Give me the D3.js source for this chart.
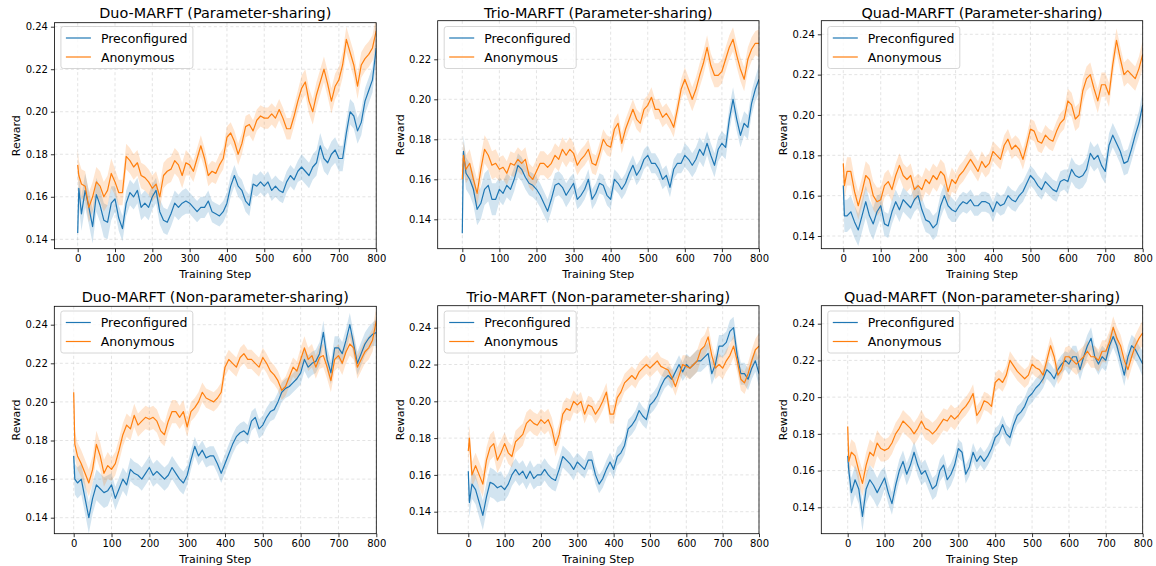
<!DOCTYPE html>
<html><head><meta charset="utf-8">
<script src="https://cdn.jsdelivr.net/npm/d3@7"></script>
<style>body{margin:0;background:#fff}svg{display:block;font-family:"DejaVu Sans",sans-serif}</style>
</head><body><svg id="c" width="1156" height="566"></svg>
<script>
const steps = [0,3,10,20,30,40,50,60,70,80,90,100,110,120,130,140,150,160,170,180,190,200,210,220,230,240,250,260,270,280,290,300,310,320,330,340,350,360,370,380,390,400,410,420,430,440,450,460,470,480,490,500,510,520,530,540,550,560,570,580,590,600,610,620,630,640,650,660,670,680,690,700,710,720,730,740,750,760,770,780,790,800];
const seriesNames = ["Preconfigured","Anonymous"];
const titles = ["Duo-MARFT (Parameter-sharing)","Trio-MARFT (Parameter-sharing)","Quad-MARFT (Parameter-sharing)","Duo-MARFT (Non-parameter-sharing)","Trio-MARFT (Non-parameter-sharing)","Quad-MARFT (Non-parameter-sharing)"];
const xTicks = [0,100,200,300,400,500,600,700,800];
const yTicksA = [0.14,0.16,0.18,0.20,0.22,0.24];
const yTicksB = [0.14,0.16,0.18,0.20,0.22];

const duoPS_pre = [0.143,0.164,0.152,0.163,0.155,0.146,0.161,0.156,0.149,0.148,
0.157,0.159,0.150,0.145,0.157,0.162,0.160,0.163,0.155,0.157,
0.155,0.160,0.163,0.153,0.149,0.148,0.152,0.157,0.155,0.157,
0.158,0.157,0.155,0.153,0.155,0.155,0.158,0.153,0.152,0.151,
0.153,0.157,0.165,0.170,0.165,0.163,0.158,0.156,0.166,0.165,
0.167,0.165,0.167,0.163,0.165,0.163,0.162,0.167,0.170,0.168,
0.172,0.174,0.172,0.170,0.174,0.176,0.184,0.178,0.176,0.180,
0.182,0.178,0.178,0.190,0.200,0.198,0.191,0.195,0.205,0.210,
0.215,0.230];
const duoPS_anon = [0.175,0.170,0.166,0.165,0.155,0.160,0.167,0.165,0.160,0.163,
0.171,0.167,0.162,0.162,0.179,0.177,0.174,0.176,0.170,0.169,
0.167,0.164,0.166,0.160,0.170,0.172,0.173,0.177,0.175,0.170,
0.176,0.175,0.172,0.178,0.184,0.178,0.170,0.172,0.171,0.175,
0.178,0.188,0.190,0.186,0.180,0.185,0.193,0.194,0.191,0.196,
0.198,0.197,0.197,0.199,0.197,0.201,0.197,0.192,0.192,0.198,
0.205,0.211,0.214,0.205,0.200,0.208,0.214,0.220,0.213,0.205,
0.212,0.215,0.222,0.234,0.228,0.222,0.212,0.222,0.225,0.227,
0.230,0.238];
const trioPS_pre = [0.133,0.174,0.163,0.160,0.155,0.145,0.148,0.155,0.157,0.150,
0.150,0.155,0.153,0.157,0.155,0.160,0.167,0.165,0.161,0.158,
0.157,0.155,0.152,0.148,0.144,0.150,0.157,0.158,0.156,0.152,
0.155,0.158,0.150,0.152,0.155,0.160,0.150,0.153,0.158,0.157,
0.152,0.150,0.160,0.158,0.155,0.158,0.163,0.167,0.162,0.165,
0.170,0.172,0.168,0.168,0.165,0.160,0.162,0.156,0.165,0.168,
0.168,0.172,0.170,0.167,0.170,0.175,0.172,0.178,0.172,0.167,
0.175,0.178,0.176,0.190,0.200,0.190,0.182,0.188,0.186,0.198,
0.205,0.210];
const trioPS_anon = [0.160,0.172,0.165,0.168,0.160,0.153,0.165,0.175,0.172,0.167,
0.168,0.165,0.166,0.163,0.168,0.167,0.170,0.168,0.170,0.162,
0.160,0.164,0.168,0.168,0.166,0.168,0.172,0.170,0.175,0.172,
0.175,0.173,0.167,0.170,0.172,0.175,0.168,0.167,0.173,0.180,
0.177,0.176,0.185,0.188,0.178,0.185,0.190,0.195,0.190,0.188,
0.195,0.197,0.201,0.195,0.195,0.191,0.193,0.190,0.186,0.195,
0.205,0.210,0.205,0.200,0.205,0.212,0.218,0.226,0.217,0.212,
0.212,0.214,0.220,0.226,0.230,0.222,0.215,0.210,0.220,0.225,
0.228,0.228];
const quadPS_pre = [0.165,0.150,0.150,0.152,0.147,0.143,0.150,0.157,0.150,0.146,
0.152,0.155,0.146,0.145,0.152,0.157,0.153,0.158,0.156,0.154,
0.158,0.160,0.153,0.148,0.147,0.144,0.146,0.155,0.160,0.155,
0.153,0.152,0.155,0.157,0.156,0.158,0.155,0.155,0.157,0.157,
0.156,0.152,0.157,0.155,0.156,0.160,0.158,0.157,0.160,0.162,
0.166,0.170,0.168,0.165,0.163,0.167,0.165,0.163,0.162,0.167,
0.168,0.167,0.173,0.170,0.169,0.170,0.173,0.181,0.178,0.180,
0.175,0.172,0.185,0.190,0.186,0.182,0.176,0.177,0.183,0.190,
0.196,0.205];
const quadPS_anon = [0.176,0.165,0.172,0.172,0.162,0.155,0.162,0.170,0.168,0.160,
0.157,0.158,0.165,0.167,0.163,0.170,0.175,0.170,0.168,0.170,
0.163,0.165,0.163,0.168,0.166,0.170,0.168,0.172,0.170,0.162,
0.168,0.166,0.170,0.172,0.175,0.178,0.175,0.172,0.177,0.174,
0.176,0.182,0.180,0.178,0.185,0.188,0.183,0.185,0.183,0.178,
0.185,0.193,0.192,0.187,0.186,0.190,0.188,0.187,0.192,0.196,
0.198,0.207,0.205,0.198,0.200,0.212,0.218,0.220,0.213,0.207,
0.215,0.215,0.210,0.225,0.237,0.228,0.220,0.222,0.220,0.218,
0.223,0.230];
const duoNPS_pre = [0.172,0.160,0.158,0.160,0.150,0.140,0.150,0.157,0.155,0.153,
0.154,0.157,0.150,0.155,0.160,0.157,0.165,0.163,0.162,0.160,
0.163,0.166,0.162,0.164,0.162,0.160,0.162,0.166,0.163,0.160,
0.158,0.162,0.170,0.177,0.172,0.175,0.171,0.172,0.172,0.168,
0.163,0.168,0.173,0.178,0.182,0.184,0.185,0.183,0.190,0.192,
0.186,0.188,0.192,0.195,0.196,0.200,0.205,0.207,0.208,0.210,
0.212,0.215,0.222,0.218,0.220,0.221,0.225,0.236,0.222,0.215,
0.228,0.228,0.225,0.232,0.240,0.230,0.220,0.225,0.230,0.233,
0.235,0.236];
const duoNPS_anon = [0.205,0.178,0.172,0.168,0.163,0.158,0.165,0.178,0.172,0.163,
0.167,0.165,0.168,0.175,0.183,0.188,0.186,0.193,0.188,0.190,
0.192,0.191,0.192,0.190,0.185,0.183,0.190,0.195,0.195,0.192,
0.195,0.187,0.195,0.197,0.200,0.205,0.202,0.201,0.200,0.202,
0.205,0.218,0.222,0.220,0.218,0.223,0.225,0.222,0.222,0.220,
0.218,0.223,0.220,0.216,0.214,0.211,0.206,0.208,0.213,0.218,
0.216,0.222,0.228,0.222,0.224,0.218,0.223,0.224,0.218,0.211,
0.222,0.224,0.220,0.226,0.230,0.228,0.218,0.222,0.226,0.228,
0.232,0.242];
const trioNPS_pre = [0.162,0.145,0.155,0.152,0.145,0.138,0.148,0.156,0.155,0.153,
0.154,0.152,0.155,0.160,0.163,0.160,0.162,0.158,0.162,0.158,
0.160,0.160,0.163,0.160,0.158,0.157,0.163,0.170,0.168,0.166,
0.163,0.167,0.165,0.163,0.168,0.168,0.160,0.155,0.158,0.163,
0.167,0.163,0.170,0.172,0.176,0.185,0.187,0.190,0.195,0.192,
0.190,0.198,0.200,0.203,0.208,0.212,0.214,0.212,0.216,0.220,
0.216,0.220,0.218,0.220,0.222,0.222,0.224,0.226,0.215,0.220,
0.230,0.230,0.232,0.238,0.240,0.225,0.215,0.215,0.212,0.218,
0.222,0.215];
const trioNPS_anon = [0.173,0.180,0.160,0.165,0.160,0.155,0.168,0.175,0.177,0.168,
0.172,0.177,0.172,0.170,0.178,0.180,0.182,0.188,0.190,0.188,
0.187,0.190,0.188,0.190,0.185,0.176,0.182,0.193,0.196,0.195,
0.200,0.198,0.200,0.193,0.198,0.197,0.193,0.196,0.200,0.205,
0.193,0.193,0.202,0.205,0.210,0.212,0.214,0.212,0.216,0.218,
0.220,0.218,0.220,0.222,0.219,0.218,0.217,0.213,0.208,0.214,
0.220,0.219,0.218,0.220,0.222,0.228,0.230,0.235,0.225,0.218,
0.220,0.218,0.222,0.225,0.230,0.222,0.212,0.210,0.215,0.222,
0.228,0.230];
const quadNPS_pre = [0.168,0.160,0.148,0.155,0.150,0.135,0.150,0.155,0.152,0.148,
0.152,0.156,0.148,0.142,0.152,0.160,0.165,0.158,0.163,0.170,
0.163,0.158,0.160,0.155,0.150,0.152,0.160,0.163,0.155,0.158,
0.163,0.172,0.170,0.158,0.162,0.170,0.165,0.168,0.165,0.168,
0.172,0.178,0.180,0.185,0.180,0.178,0.185,0.190,0.192,0.195,
0.200,0.202,0.205,0.207,0.210,0.215,0.213,0.210,0.215,0.218,
0.220,0.218,0.222,0.222,0.215,0.222,0.228,0.232,0.222,0.218,
0.222,0.220,0.228,0.233,0.228,0.220,0.212,0.222,0.228,0.226,
0.222,0.218];
const quadNPS_anon = [0.184,0.165,0.170,0.168,0.160,0.153,0.163,0.170,0.168,0.175,
0.172,0.171,0.172,0.175,0.180,0.183,0.187,0.185,0.183,0.180,
0.183,0.187,0.183,0.182,0.180,0.182,0.185,0.188,0.187,0.190,
0.188,0.190,0.193,0.195,0.198,0.202,0.190,0.193,0.198,0.197,
0.195,0.208,0.210,0.208,0.212,0.220,0.217,0.214,0.212,0.210,
0.212,0.218,0.216,0.215,0.212,0.220,0.228,0.222,0.212,0.215,
0.222,0.222,0.220,0.218,0.220,0.222,0.225,0.222,0.222,0.220,
0.225,0.225,0.230,0.238,0.232,0.228,0.220,0.215,0.222,0.228,
0.232,0.235];

// band half-widths per 100-step block (0-99,100-199,...,700-799,800)
const band_pre  = [0.008,0.006,0.006,0.005,0.005,0.005,0.006,0.006,0.007];
const band_anon = [0.007,0.006,0.006,0.005,0.005,0.005,0.006,0.006,0.007];

const seriesByPanel = [
  [duoPS_pre, duoPS_anon],[trioPS_pre, trioPS_anon],[quadPS_pre, quadPS_anon],
  [duoNPS_pre, duoNPS_anon],[trioNPS_pre, trioNPS_anon],[quadNPS_pre, quadNPS_anon]
];
const bands = [band_pre, band_anon];
const colors = ["#1f77b4","#ff7f0e"];

// layout (pixels)
const layout = [
  {L:54.4,R:376.2,T:22.7,B:248.7,x0:77.7,x800:376.2,ya:[0.24,26.7],yb:[0.14,239.3],yt:yTicksA,titleY:17.5},
  {L:437.7,R:759,T:20.7,B:248.7,x0:462.3,x800:759,ya:[0.22,59.3],yb:[0.14,219.3],yt:yTicksB,titleY:17.5},
  {L:821.3,R:1142.7,T:20.7,B:248.7,x0:843.3,x800:1142.7,ya:[0.24,34.3],yb:[0.14,236],yt:yTicksA,titleY:17.5},
  {L:54.3,R:376.3,T:306.3,B:533.7,x0:73.7,x800:376.3,ya:[0.24,324.7],yb:[0.14,517.7],yt:yTicksA,titleY:301.5},
  {L:437.7,R:759,T:305.7,B:533.7,x0:468.3,x800:759,ya:[0.24,327.7],yb:[0.14,511.7],yt:yTicksA,titleY:301.5},
  {L:821.3,R:1142.7,T:305.7,B:533.7,x0:847.7,x800:1142.7,ya:[0.24,323.7],yb:[0.14,507.3],yt:yTicksA,titleY:301.5}
];

const svg = d3.select("#c");
layout.forEach((p,i)=>{
  const x = d3.scaleLinear().domain([0,800]).range([p.x0,p.x800]);
  const y = d3.scaleLinear().domain([p.yb[0],p.ya[0]]).range([p.yb[1],p.ya[1]]);
  const g = svg.append("g");
  const cid = "clip"+i;
  svg.append("clipPath").attr("id",cid).append("rect")
    .attr("x",p.L).attr("y",p.T).attr("width",p.R-p.L).attr("height",p.B-p.T);
  // grid
  const grid = g.append("g").attr("stroke","#b0b0b0").attr("stroke-opacity",0.45)
    .attr("stroke-width",0.8).attr("stroke-dasharray","3,2.5");
  xTicks.forEach(t=>grid.append("line").attr("x1",x(t)).attr("x2",x(t)).attr("y1",p.T).attr("y2",p.B));
  p.yt.forEach(t=>grid.append("line").attr("x1",p.L).attr("x2",p.R).attr("y1",y(t)).attr("y2",y(t)));
  // data
  const dg = g.append("g").attr("clip-path",`url(#${cid})`);
  seriesByPanel[i].forEach((vals,k)=>{
    const d = steps.map((s,j)=>({s, v:vals[j], h:bands[k][Math.min(8,Math.floor(s/100))]}));
    dg.append("path").datum(d).attr("fill",colors[k]).attr("fill-opacity",0.2)
      .attr("d",d3.area().x(e=>x(e.s)).y0(e=>y(e.v-e.h)).y1(e=>y(e.v+e.h)));
  });
  seriesByPanel[i].forEach((vals,k)=>{
    const d = steps.map((s,j)=>({s, v:vals[j]}));
    dg.append("path").datum(d).attr("fill","none").attr("stroke",colors[k]).attr("stroke-width",1.2)
      .attr("stroke-linejoin","round").attr("d",d3.line().x(e=>x(e.s)).y(e=>y(e.v)));
  });
  // axes
  const xa = g.append("g").attr("transform",`translate(0,${p.B})`)
    .call(d3.axisBottom(x).tickValues(xTicks).tickFormat(d3.format("d")).tickSize(3.5).tickPadding(3));
  const ya = g.append("g").attr("transform",`translate(${p.L},0)`)
    .call(d3.axisLeft(y).tickValues(p.yt).tickFormat(d3.format(".2f")).tickSize(3.5).tickPadding(3));
  [xa,ya].forEach(a=>{a.select(".domain").remove();
    a.selectAll("text").attr("font-size",10).attr("fill","#000").attr("font-family","DejaVu Sans");
    a.selectAll("line").attr("stroke","#000").attr("stroke-width",0.8);});
  // frame
  g.append("rect").attr("x",p.L).attr("y",p.T).attr("width",p.R-p.L).attr("height",p.B-p.T)
    .attr("fill","none").attr("stroke","#000").attr("stroke-width",0.8);
  // labels
  g.append("text").attr("x",(p.L+p.R)/2).attr("y",p.B+29).attr("text-anchor","middle")
    .attr("font-size",11).text("Training Step");
  g.append("text").attr("transform",`translate(${p.L-34},${(p.T+p.B)/2}) rotate(-90)`)
    .attr("text-anchor","middle").attr("font-size",11).text("Reward");
  g.append("text").attr("x",(p.L+p.R)/2).attr("y",p.titleY).attr("text-anchor","middle")
    .attr("font-size",14.4).text(titles[i]);
  // legend
  const lx = p.L+6.5, ly = (i<3?26.5:311);
  const lg = g.append("g");
  lg.append("rect").attr("x",lx).attr("y",ly).attr("width",132).attr("height",42).attr("rx",2.5)
    .attr("fill","#fff").attr("fill-opacity",0.8).attr("stroke","#ccc").attr("stroke-width",0.8);
  seriesNames.forEach((n,k)=>{
    const yy = ly+11.5+k*19;
    lg.append("line").attr("x1",lx+5).attr("x2",lx+30).attr("y1",yy).attr("y2",yy)
      .attr("stroke",colors[k]).attr("stroke-width",1.2);
    lg.append("text").attr("x",lx+40).attr("y",yy+4.5).attr("font-size",12.5).text(n);
  });
});
</script></body></html>
